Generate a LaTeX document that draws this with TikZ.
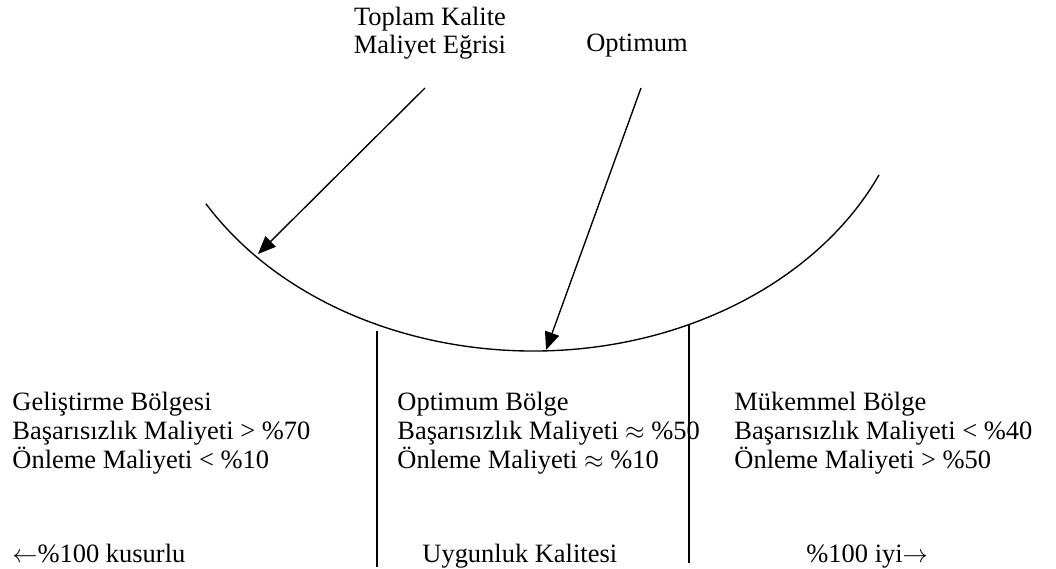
\documentclass[tikz,border=0pt]{standalone}
\usepackage{fontspec}
\setmainfont{Liberation Serif}
\usepackage{tikz}
\usetikzlibrary{arrows.meta, positioning}

\begin{document}
\begin{tikzpicture}[
    x=0.47619pt, y=-0.47619pt,
    every node/.style={font=\fontsize{12.6pt}{13.8pt}\selectfont, inner sep=0pt},
    zone/.style={anchor=base west, align=left},
    curve/.style={line width=0.65pt},
    divider/.style={line width=0.65pt},
    pointer/.style={-{Triangle[length=8.5pt, width=7pt]}, line width=0.65pt}
]
\useasboundingbox (0,0) rectangle (1056,569);

\node[align=center, anchor=base] (tkm) at (430,54) {Toplam Kalite\\Maliyet Eğrisi};
\node[anchor=base] (opt) at (637,52) {Optimum};

\draw[curve] (205.9,203.7) arc[start angle=149.4, end angle=24.4, x radius=380, y radius=300];

\coordinate (tkmtail) at (425,88);
\coordinate (tkmtip) at (258,254);
\coordinate (opttail) at (641,88);
\coordinate (opttip) at (546,350);
\draw[pointer] (tkmtail) -- (tkmtip);
\draw[pointer] (opttail) -- (opttip);

\foreach \x/\yt/\yb in {377/331/567, 689/325/563} {
    \draw[divider] (\x,\yt) -- (\x,\yb);
}

\node[zone] (gel) at (12,468) {Geliştirme Bölgesi\\Başarısızlık Maliyeti > \%70\\Önleme Maliyeti < \%10};
\node[zone] (optb) at (397,468) {Optimum Bölge\\Başarısızlık Maliyeti $\approx$ \%50\\Önleme Maliyeti $\approx$ \%10};
\node[zone] (muk) at (734,468) {Mükemmel Bölge\\Başarısızlık Maliyeti < \%40\\Önleme Maliyeti > \%50};

\node[anchor=base west] (kus) at (12,562) {$\leftarrow$\%100 kusurlu};
\node[anchor=base west] (uyg) at (422,562) {Uygunluk Kalitesi};
\node[anchor=base west] (iyi) at (806,562) {\%100 iyi$\rightarrow$};

\end{tikzpicture}
\end{document}
